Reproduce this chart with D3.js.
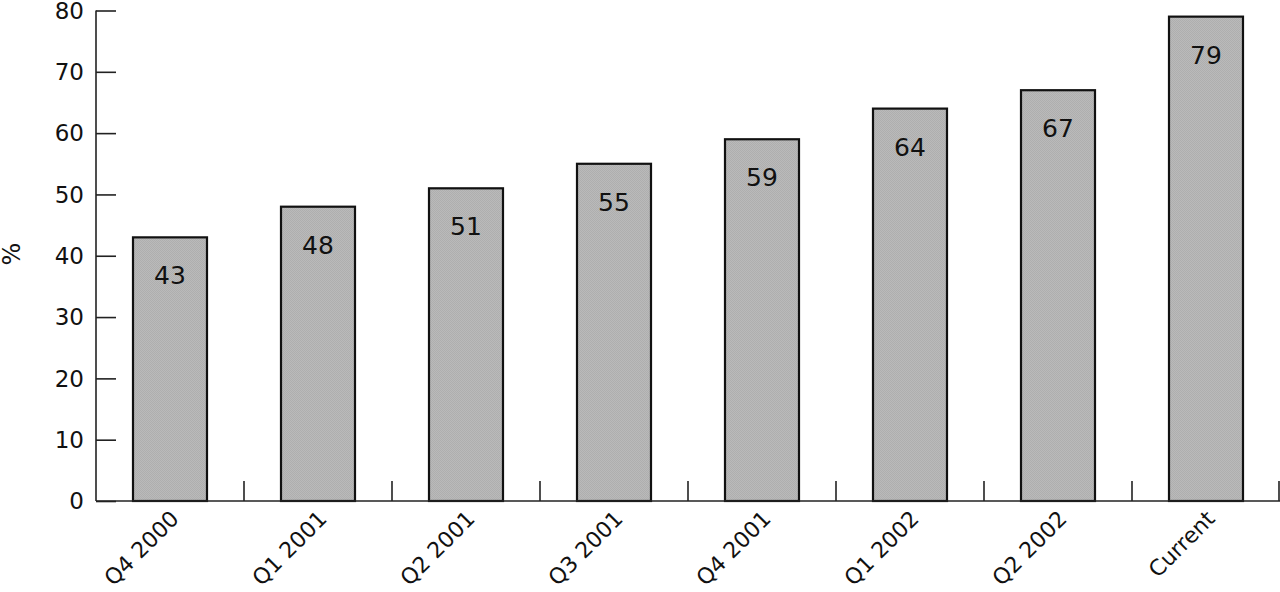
<!DOCTYPE html>
<html><head><meta charset="utf-8">
<script src="https://cdn.jsdelivr.net/npm/d3@7"></script>
<style>body{margin:0;background:#fff}svg{display:block}text{font-family:"DejaVu Sans",sans-serif}</style>
</head><body>
<svg id="c" width="1280" height="592"></svg>
<script>
const categories = ["Q4 2000","Q1 2001","Q2 2001","Q3 2001","Q4 2001","Q1 2002","Q2 2002","Current"];
const values = [43,48,51,55,59,64,67,79];
const yTicks = [0,10,20,30,40,50,60,70,80];

const svg = d3.select("#c");
const x0 = 96, x1 = 1280, yTop = 10.5, yBot = 501;
const x = d3.scaleBand().domain(categories).range([x0, x1]).paddingInner(0.5).paddingOuter(0.25);
const y = d3.scaleLinear().domain([0,80]).range([yBot, yTop]);

const defs = svg.append("defs");
const pat = defs.append("pattern").attr("id","dots").attr("width",2).attr("height",2).attr("patternUnits","userSpaceOnUse");
pat.append("rect").attr("width",2).attr("height",2).attr("fill","#bababa");
pat.append("rect").attr("width",1).attr("height",1).attr("fill","#aeaeae");
pat.append("rect").attr("x",1).attr("y",1).attr("width",1).attr("height",1).attr("fill","#aeaeae");

// bars
svg.append("g").selectAll("rect").data(values).join("rect")
  .attr("x",(d,i)=>x(categories[i]))
  .attr("y",d=>y(d))
  .attr("width",x.bandwidth())
  .attr("height",d=>yBot-y(d))
  .attr("fill","url(#dots)")
  .attr("stroke","#111").attr("stroke-width",2.2);

// value labels
svg.append("g").selectAll("text").data(values).join("text")
  .attr("x",(d,i)=>x(categories[i])+x.bandwidth()/2)
  .attr("y",d=>y(d)+47)
  .attr("text-anchor","middle")
  .attr("font-size",25)
  .attr("fill","#111")
  .text(d=>d);

// y axis
const yAxis = d3.axisRight(y).tickValues(yTicks).tickSize(20).tickFormat("");
const gy = svg.append("g").attr("transform",`translate(${x0},0)`).call(yAxis);
gy.select(".domain").remove();
gy.selectAll(".tick line").attr("stroke","#222").attr("stroke-width",1.6);
svg.append("line").attr("x1",x0).attr("x2",x0).attr("y1",y(80)).attr("y2",yBot).attr("stroke","#222").attr("stroke-width",1.6);
svg.append("g").selectAll("text").data(yTicks).join("text")
  .attr("x",84).attr("y",d=>y(d)).attr("dy","0.36em")
  .attr("text-anchor","end").attr("font-size",23).attr("fill","#111")
  .text(d=>d);

// x axis line
svg.append("line").attr("x1",x0).attr("x2",x1).attr("y1",yBot).attr("y2",yBot).attr("stroke","#222").attr("stroke-width",1.6);
const step = x.step();
const sepIdx = d3.range(1, categories.length+1);
const sepX = i => Math.min(x(categories[i-1]) + x.bandwidth() + step*x.paddingInner()/2, 1279);
svg.append("g").selectAll("line").data(sepIdx).join("line")
  .attr("x1",sepX).attr("x2",sepX)
  .attr("y1",yBot).attr("y2",yBot-20)
  .attr("stroke","#222").attr("stroke-width",1.6);

// x labels
svg.append("g").selectAll("text").data(categories).join("text")
  .attr("transform",d=>`translate(${x(d)+x.bandwidth()/2-1},${yBot+8}) rotate(-45)`)
  .attr("text-anchor","end").attr("dy","0.72em").attr("font-size",22).attr("fill","#111")
  .text(d=>d);

// y label
svg.append("text").attr("transform","translate(11,254) rotate(-90)")
  .attr("text-anchor","middle").attr("dy","0.36em").attr("font-size",24).attr("fill","#111").text("%");
</script>
</body></html>
